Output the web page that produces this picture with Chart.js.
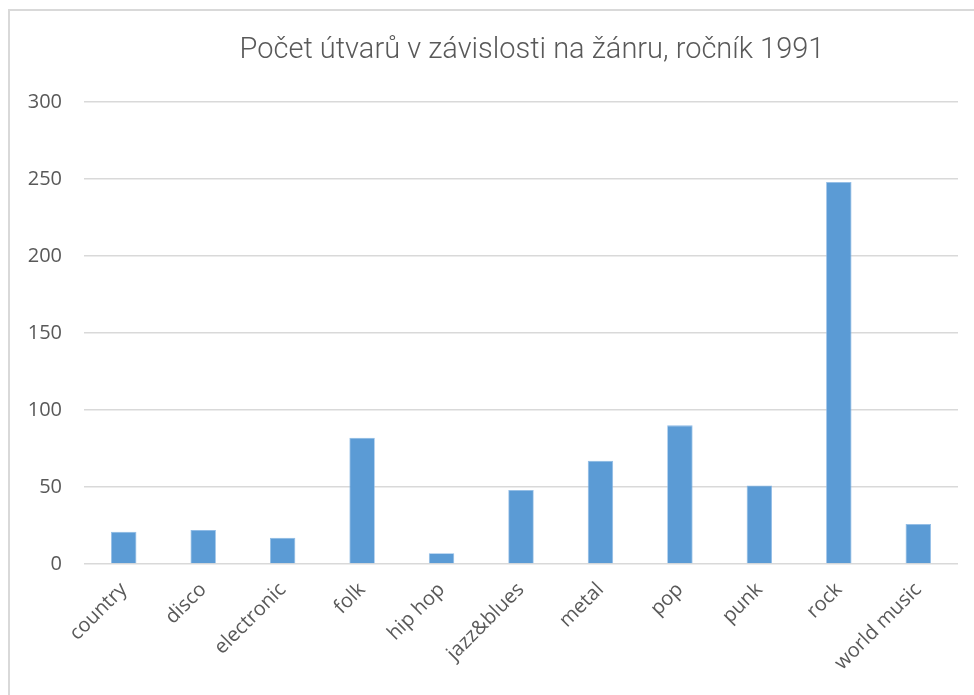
<!DOCTYPE html>
<html>
<head>
<meta charset="utf-8">
<script src="https://cdn.jsdelivr.net/npm/chart.js@4"></script>
<style>
    body { margin: 0; background: #fff; }
    #wrap { position: relative; width: 974px; height: 695px; }
    #frame { position: absolute; left: 8px; top: 9px; width: 980px; height: 700px; border: 2px solid #d9d9d9; pointer-events: none; }
</style>
</head>
<body>
<div id="wrap">
    <canvas id="genreChart" width="974" height="695"></canvas>
    <div id="frame"></div>
</div>
<script>
// Genres and counts
const genres = ['country', 'disco', 'electronic', 'folk', 'hip hop', 'jazz&blues', 'metal', 'pop', 'punk', 'rock', 'world music'];
const counts = [21, 22, 17, 82, 7, 48, 67, 90, 51, 248, 26];
const yTicks = [0, 50, 100, 150, 200, 250, 300];

// nudge the title a bit right, like the original
const titleShift = {
    id: 'titleShift',
    afterLayout(chart) {
        if (chart.titleBlock) {
            chart.titleBlock.left += 11;
            chart.titleBlock.right += 11;
        }
    }
};

const ctx = document.getElementById('genreChart').getContext('2d');
new Chart(ctx, {
    type: 'bar',
    data: {
        labels: genres,
        datasets: [{
            label: 'Počet útvarů',
            data: counts,
            backgroundColor: '#5b9bd5',
            borderColor: '#8fbbe6',
            borderWidth: 0.8,
            barPercentage: 0.32,
            categoryPercentage: 1
        }]
    },
    options: {
        responsive: false,
        animation: false,
        layout: { padding: { left: 0, right: 16, top: 0, bottom: 0 } },
        plugins: {
            legend: { display: false },
            tooltip: { enabled: false },
            title: {
                display: true,
                text: 'Počet útvarů v závislosti na žánru, ročník 1991',
                fullSize: false,
                color: '#595959',
                font: { family: 'Roboto', size: 29, weight: 300, lineHeight: 1.2 },
                padding: { top: 33, bottom: 34 }
            }
        },
        scales: {
            x: {
                grid: { display: false },
                border: { display: false },
                ticks: {
                    color: '#595959',
                    font: { family: 'Open Sans', size: 20 },
                    minRotation: 45,
                    maxRotation: 45,
                    padding: 6
                },
                afterFit: scale => { scale.height = 131; }
            },
            y: {
                min: 0,
                max: 300,
                afterBuildTicks: scale => { scale.ticks = yTicks.map(v => ({ value: v })); },
                grid: { color: '#d9d9d9', lineWidth: 1.5, drawTicks: false },
                border: { display: false },
                ticks: {
                    color: '#595959',
                    font: { family: 'Open Sans', size: 20 },
                    padding: 22
                },
                afterFit: scale => { scale.width = 84; }
            }
        }
    },
    plugins: [titleShift]
});
</script>
</body>
</html>
